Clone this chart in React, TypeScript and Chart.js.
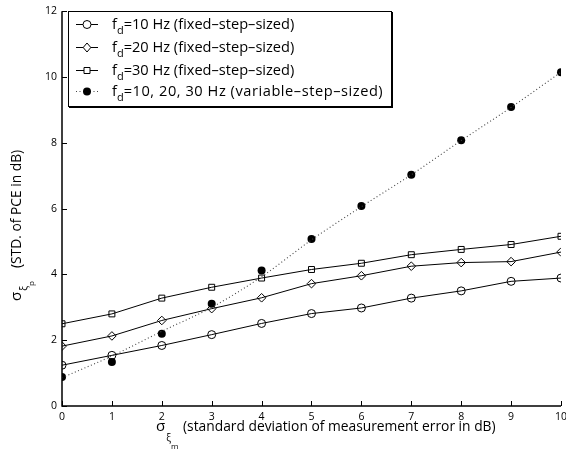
import React, { useEffect, useRef } from 'react';
import { Chart, registerables } from 'chart.js';

Chart.register(...registerables);

// ---- data ----
const xValues = [0, 1, 2, 3, 4, 5, 6, 7, 8, 9, 10];
const fd10Fixed = [1.24, 1.54, 1.84, 2.17, 2.51, 2.81, 2.98, 3.28, 3.5, 3.79, 3.89];
const fd20Fixed = [1.82, 2.13, 2.6, 2.96, 3.29, 3.72, 3.96, 4.25, 4.36, 4.39, 4.68];
const fd30Fixed = [2.5, 2.8, 3.28, 3.61, 3.89, 4.15, 4.34, 4.6, 4.76, 4.91, 5.16];
const variableStep = [0.88, 1.34, 2.2, 3.11, 4.12, 5.08, 6.08, 7.03, 8.08, 9.09, 10.15];
const variableTrend = [0.86, 1.52, 2.27, 3.0, 3.93, 5.05, 6.06, 7.03, 8.07, 9.08, 10.15];
const xTicks = [0, 1, 2, 3, 4, 5, 6, 7, 8, 9, 10];
const yTicks = [0, 2, 4, 6, 8, 10, 12];
const legendRest = [
  '=10 Hz (fixed\u2013step\u2013sized)',
  '=20 Hz (fixed\u2013step\u2013sized)',
  '=30 Hz (fixed\u2013step\u2013sized)',
  '=10, 20, 30 Hz (variable\u2013step\u2013sized)',
];
const legendMarkers = ['circle', 'rectRot', 'rect', 'filled'];

const FONT = '"Open Sans", "Liberation Sans", sans-serif';

function pts(arr: number[]) {
  return xValues.map((x, i) => ({ x, y: arr[i] }));
}

function drawMarker(ctx: CanvasRenderingContext2D, kind: string, x: number, y: number) {
  ctx.save();
  ctx.strokeStyle = '#000';
  ctx.lineWidth = 1;
  ctx.fillStyle = '#fff';
  ctx.beginPath();
  if (kind === 'circle') {
    ctx.arc(x, y, 4, 0, Math.PI * 2);
    ctx.fill();
    ctx.stroke();
  } else if (kind === 'rectRot') {
    ctx.moveTo(x, y - 4.5);
    ctx.lineTo(x + 3.8, y);
    ctx.lineTo(x, y + 4.5);
    ctx.lineTo(x - 3.8, y);
    ctx.closePath();
    ctx.fill();
    ctx.stroke();
  } else if (kind === 'rect') {
    ctx.rect(x - 3, y - 3, 6, 6);
    ctx.fill();
    ctx.stroke();
  } else {
    ctx.fillStyle = '#000';
    ctx.arc(x, y, 4, 0, Math.PI * 2);
    ctx.fill();
  }
  ctx.restore();
}

const matlabPlugin = {
  id: 'matlabAxes',
  afterDraw(chart: any) {
    const ctx: CanvasRenderingContext2D = chart.ctx;
    const xs = chart.scales.x;
    const ys = chart.scales.y;
    const { left, right, top, bottom } = chart.chartArea;
    ctx.save();
    // axes lines
    ctx.strokeStyle = '#000';
    ctx.lineWidth = 1.5;
    ctx.beginPath();
    ctx.moveTo(left, top);
    ctx.lineTo(left, bottom);
    ctx.lineTo(right, bottom);
    ctx.stroke();
    // inward tick marks
    ctx.lineWidth = 1;
    ctx.beginPath();
    xTicks.forEach((v) => {
      const px = Math.round(xs.getPixelForValue(v)) + 0.5;
      ctx.moveTo(px, bottom);
      ctx.lineTo(px, bottom - 5);
    });
    yTicks.forEach((v) => {
      const py = Math.round(ys.getPixelForValue(v)) + 0.5;
      ctx.moveTo(left, py);
      ctx.lineTo(left + 5, py);
    });
    ctx.stroke();

    ctx.fillStyle = '#000';
    ctx.textBaseline = 'alphabetic';
    ctx.textAlign = 'left';

    // x title
    let cx = 156;
    ctx.font = `15px ${FONT}`;
    ctx.fillText('\u03c3', cx, 431);
    cx += ctx.measureText('\u03c3').width + 1;
    ctx.font = `10px ${FONT}`;
    ctx.fillText('\u03be', cx, 441);
    cx += ctx.measureText('\u03be').width;
    ctx.font = `8px ${FONT}`;
    ctx.fillText('m', cx, 449);
    ctx.font = `13.8px ${FONT}`;
    ctx.fillText('(standard deviation of measurement error in dB)', 183, 431);

    // y title (rotated)
    ctx.save();
    ctx.translate(21, 301);
    ctx.rotate(-Math.PI / 2);
    let u = 0;
    ctx.font = `15px ${FONT}`;
    ctx.fillText('\u03c3', u, 0);
    u += ctx.measureText('\u03c3').width + 1;
    ctx.font = `10px ${FONT}`;
    ctx.fillText('\u03be', u, 6);
    u += ctx.measureText('\u03be').width;
    ctx.font = `8px ${FONT}`;
    ctx.fillText('p', u, 13);
    ctx.font = `13.8px ${FONT}`;
    ctx.fillText('(STD. of PCE in dB)', 33, 0);
    ctx.restore();

    // legend box
    const bx = 68, by = 11, bw = 323, bh = 95;
    ctx.fillStyle = '#fff';
    ctx.fillRect(bx, by, bw, bh);
    ctx.strokeStyle = '#000';
    ctx.lineWidth = 1;
    ctx.strokeRect(bx + 0.5, by + 0.5, bw, bh);
    ctx.lineWidth = 2;
    ctx.beginPath();
    ctx.moveTo(bx + bw + 1, by + 1);
    ctx.lineTo(bx + bw + 1, by + bh + 1);
    ctx.lineTo(bx + 1, by + bh + 1);
    ctx.stroke();

    const rowY = [24, 47, 70, 91];
    legendRest.forEach((txt, i) => {
      const ry = rowY[i];
      ctx.save();
      ctx.strokeStyle = i === 3 ? '#444' : '#000';
      ctx.lineWidth = 1;
      if (i === 3) ctx.setLineDash([1, 2.5]);
      ctx.beginPath();
      ctx.moveTo(76, ry + 0.5);
      ctx.lineTo(98, ry + 0.5);
      ctx.stroke();
      ctx.restore();
      drawMarker(ctx, legendMarkers[i], 87, ry + 0.5);
      ctx.fillStyle = '#000';
      let tx = 112;
      ctx.font = `14.6px ${FONT}`;
      ctx.fillText('f', tx, ry + 5);
      tx += ctx.measureText('f').width;
      ctx.font = `11px ${FONT}`;
      ctx.fillText('d', tx, ry + 10);
      tx += ctx.measureText('d').width;
      ctx.font = `14.6px ${FONT}`;
      ctx.save();
      if (i === 3) (ctx as any).letterSpacing = '0.55px';
      ctx.fillText(txt, tx, ry + 5);
      ctx.restore();
    });
    ctx.restore();
  },
};

export default function App() {
  const ref = useRef<HTMLCanvasElement | null>(null);
  useEffect(() => {
    if (!ref.current) return;
    const chart = new Chart(ref.current, {
      type: 'line',
      data: {
        datasets: [
          {
            label: 'fd=10 Hz (fixed-step-sized)',
            data: pts(fd10Fixed),
            borderColor: '#000',
            borderWidth: 1,
            pointStyle: 'circle',
            pointRadius: 4,
            pointBackgroundColor: 'rgba(255,255,255,0)',
            pointBorderColor: '#000',
            pointBorderWidth: 1,
            tension: 0,
          },
          {
            label: 'fd=20 Hz (fixed-step-sized)',
            data: pts(fd20Fixed),
            borderColor: '#000',
            borderWidth: 1,
            pointStyle: 'rectRot',
            pointRadius: 4.3,
            pointBackgroundColor: 'rgba(255,255,255,0)',
            pointBorderColor: '#000',
            pointBorderWidth: 1,
            tension: 0,
          },
          {
            label: 'fd=30 Hz (fixed-step-sized)',
            data: pts(fd30Fixed),
            borderColor: '#000',
            borderWidth: 1,
            pointStyle: 'rect',
            pointRadius: 4.2,
            pointBackgroundColor: 'rgba(255,255,255,0)',
            pointBorderColor: '#000',
            pointBorderWidth: 1,
            tension: 0,
          },
          {
            label: 'trend',
            data: pts(variableTrend),
            borderColor: '#444',
            borderWidth: 1.1,
            borderDash: [1, 2.5],
            pointRadius: 0,
            cubicInterpolationMode: 'monotone',
          },
          {
            label: 'fd=10, 20, 30 Hz (variable-step-sized)',
            data: pts(variableStep),
            showLine: false,
            pointStyle: 'circle',
            pointRadius: 4,
            pointBackgroundColor: '#000',
            pointBorderColor: '#000',
            pointBorderWidth: 0,
          },
        ],
      },
      options: {
        animation: false,
        responsive: false,
        maintainAspectRatio: false,
        layout: { padding: { top: 11, right: 10, left: 0, bottom: 0 } },
        plugins: { legend: { display: false }, tooltip: { enabled: false } },
        scales: {
          x: {
            type: 'linear',
            min: 0,
            max: 10,
            grid: { display: false, drawTicks: false },
            border: { display: false },
            ticks: {
              stepSize: 1,
              padding: 5,
              color: '#000',
              maxRotation: 0,
              font: { family: FONT, size: 10.5 },
            },
            afterFit: (s: any) => {
              s.height = 46;
            },
          },
          y: {
            type: 'linear',
            min: 0,
            max: 12,
            grid: { display: false, drawTicks: false },
            border: { display: false },
            ticks: {
              stepSize: 2,
              padding: 5,
              color: '#000',
              font: { family: FONT, size: 10.5 },
            },
            afterFit: (s: any) => {
              s.width = 62;
            },
          },
        },
      },
      plugins: [matlabPlugin],
    } as any);
    return () => chart.destroy();
  }, []);
  return (
    <div
      style={{
        position: 'fixed',
        left: 0,
        top: 0,
        width: 566,
        height: 452,
        overflow: 'hidden',
        background: '#fff',
      }}
    >
      <canvas ref={ref} width={572} height={452} style={{ width: 572, height: 452, display: 'block' }} />
    </div>
  );
}
